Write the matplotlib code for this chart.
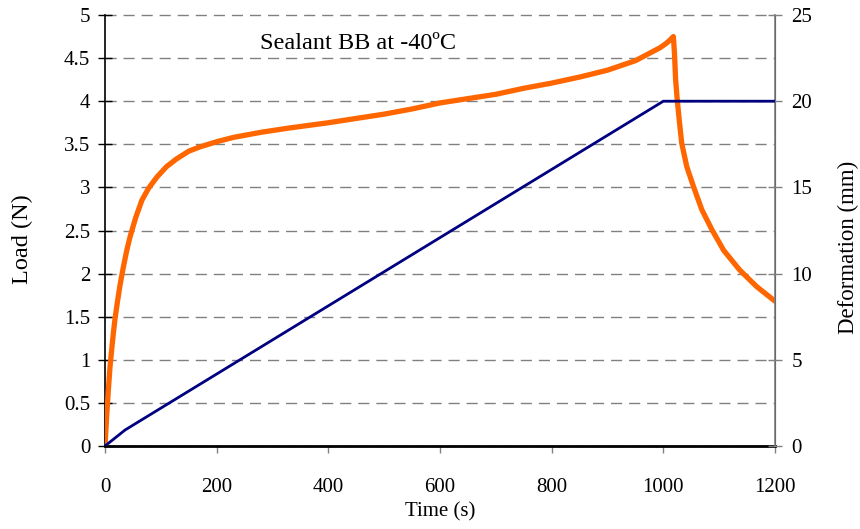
import matplotlib
matplotlib.use("Agg")
import matplotlib.pyplot as plt

# Load curve (N) vs time (s)
load_time = [0, 3, 6, 9, 12, 15, 18, 22, 27, 33, 39, 45, 55, 66, 78, 93, 110, 128, 150, 170,
             200, 230, 280, 331, 400, 450, 500, 550, 600, 650, 700, 750, 800, 850, 900, 950,
             994, 1005, 1012, 1018, 1020, 1022, 1025, 1029, 1033, 1042, 1054, 1069, 1087,
             1108, 1137, 1167, 1200]
load_vals = [0.0, 0.35, 0.65, 0.92, 1.12, 1.31, 1.48, 1.66, 1.87, 2.08, 2.27, 2.43, 2.65, 2.85,
             2.99, 3.12, 3.24, 3.33, 3.42, 3.47, 3.53, 3.58, 3.64, 3.69, 3.75, 3.80, 3.85, 3.91,
             3.98, 4.03, 4.08, 4.15, 4.21, 4.28, 4.36, 4.47, 4.62, 4.67, 4.71, 4.75, 4.55, 4.25,
             4.01, 3.75, 3.51, 3.24, 3.01, 2.74, 2.51, 2.27, 2.04, 1.85, 1.68]

# Deformation (mm) vs time (s)
def_time = [0, 36, 1000, 1200]
def_vals = [0.0, 0.93, 20.0, 20.0]

x_ticks = [0, 200, 400, 600, 800, 1000, 1200]
y_ticks = [0, 0.5, 1, 1.5, 2, 2.5, 3, 3.5, 4, 4.5, 5]
y2_ticks = [0, 5, 10, 15, 20, 25]

plt.rcParams['font.family'] = ['Liberation Serif', 'DejaVu Serif']
fs_tick = 15

fig = plt.figure(figsize=(8.6, 5.29), dpi=100)
ax = fig.add_axes([105/860, 1-446/529, 670/860, 431/529])
ax2 = ax.twinx()

ax.set_xlim(0, 1200)
ax.set_ylim(0, 5)
ax2.set_ylim(0, 25)

for y in y_ticks:
    ax.axhline(y, color='#808080', lw=1.0, ls=(0, (8, 5)), zorder=1, clip_on=False)

ax.plot(load_time, load_vals, color='#FF6600', lw=3.8, zorder=3,
        solid_joinstyle='round', solid_capstyle='round')
ax2.plot(def_time, def_vals, color='#000080', lw=2.0, zorder=4)

ax.set_xticks(x_ticks)
ax.set_yticks(y_ticks)
ax.set_yticklabels([f"{v:g}" for v in y_ticks])
ax2.set_yticks(y2_ticks)

ax.tick_params(axis='y', direction='inout', length=9.4, width=1, labelsize=fs_tick,
               color='black', pad=6)
ax.tick_params(axis='x', direction='out', length=5, width=1, labelsize=fs_tick,
               color='#808080', pad=18)
ax2.tick_params(axis='y', direction='inout', length=9.4, width=1, labelsize=fs_tick,
                color='#808080', pad=7)

for a in (ax, ax2):
    a.spines['top'].set_visible(False)
ax.spines['left'].set_color('black')
ax.spines['left'].set_linewidth(1.2)
ax.spines['bottom'].set_color('black')
ax.spines['bottom'].set_linewidth(2.0)
ax2.spines['right'].set_color('#808080')
ax2.spines['right'].set_linewidth(1.2)
ax2.spines['left'].set_visible(False)
ax2.spines['bottom'].set_visible(False)

ax.set_xlabel('Time (s)', fontsize=15)
ax.xaxis.set_label_coords(0.501, -0.13)
ax.set_ylabel('Load (N)', fontsize=17.5)
ax.yaxis.set_label_coords(-0.1075, 0.48)
ax2.set_ylabel('Deformation (mm)', fontsize=16.5)
ax2.yaxis.set_label_coords(1.094, 0.4606)

ax.text(278, 4.60, 'Sealant BB at -40ºC', fontsize=17.5, ha='left', va='baseline', zorder=5)

fig.savefig('out.png', dpi=100)
